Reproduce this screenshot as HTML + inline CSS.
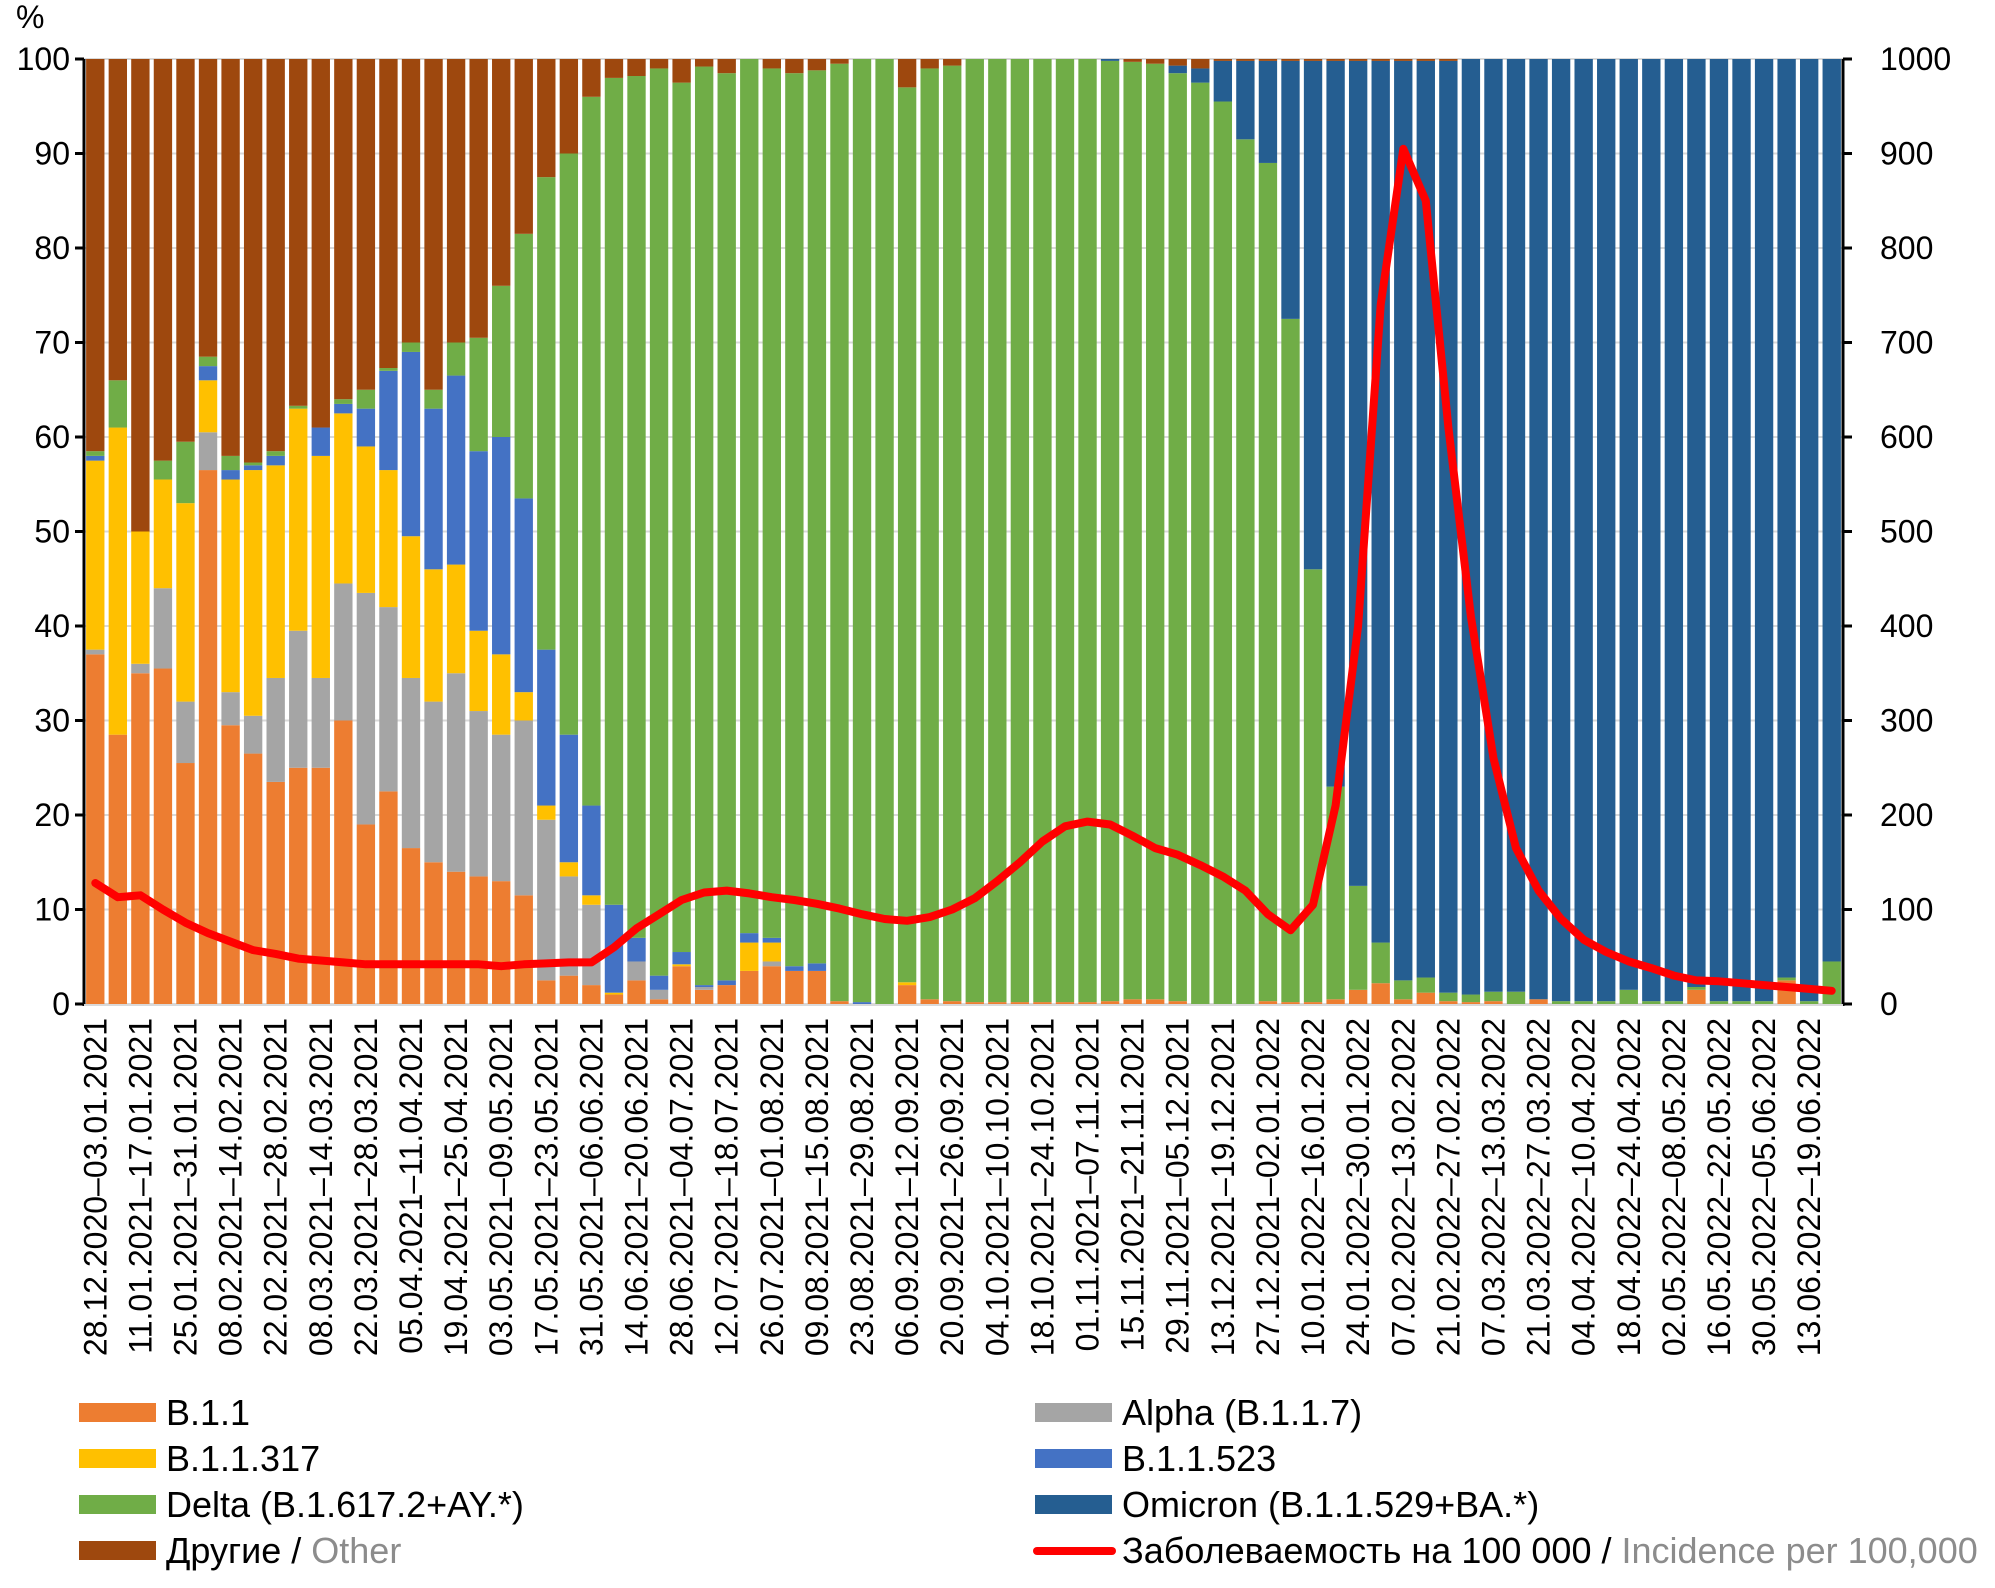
<!DOCTYPE html>
<html><head><meta charset="utf-8">
<style>
html,body{margin:0;padding:0;background:#fff;}
svg{display:block;font-family:"Liberation Sans",Arial,sans-serif;}
</style></head>
<body>
<svg id="chart" width="1995" height="1588" viewBox="0 0 1995 1588" xmlns="http://www.w3.org/2000/svg">
<g id="grid"></g>
<g id="bars"></g>
<g id="line"></g>
<g id="axes"></g>
<g id="xlabels"></g>
<text x="16" y="28" font-size="32">%</text>
<g id="legend" transform="translate(0,-8)">
  <g>
    <rect x="79" y="1411" width="77" height="19" fill="#ED7D31"/>
    <text x="166" y="1433" font-size="36">B.1.1</text></g>
  <g>
    <rect x="79" y="1457" width="77" height="19" fill="#FFC000"/>
    <text x="166" y="1479" font-size="36">B.1.1.317</text></g>
  <g>
    <rect x="79" y="1503" width="77" height="19" fill="#70AD47"/>
    <text x="166" y="1525" font-size="36">Delta (B.1.617.2+AY.*)</text></g>
  <g>
    <rect x="79" y="1549" width="77" height="19" fill="#9E480E"/>
    <text x="166" y="1571" font-size="36">Другие / <tspan fill="#8c8c8c">Other</tspan></text></g>
  <g>
    <rect x="1035" y="1411" width="77" height="19" fill="#A5A5A5"/>
    <text x="1122" y="1433" font-size="36">Alpha (B.1.1.7)</text></g>
  <g>
    <rect x="1035" y="1457" width="77" height="19" fill="#4472C4"/>
    <text x="1122" y="1479" font-size="36">B.1.1.523</text></g>
  <g>
    <rect x="1035" y="1503" width="77" height="19" fill="#255E91"/>
    <text x="1122" y="1525" font-size="36">Omicron (B.1.1.529+BA.*)</text></g>
  <g>
    <line x1="1037" y1="1559" x2="1112" y2="1559" stroke="#FF0000" stroke-width="8" stroke-linecap="round"/>
    <text x="1122" y="1571" font-size="36">Заболеваемость на 100 000 / <tspan fill="#8c8c8c">Incidence per 100,000</tspan></text></g>
</g>
</svg>
<script>
const b11 =   [37,28.5,35,35.5,25.5,56.5,29.5,26.5,23.5,25,25,30,19,22.5,16.5,15,14,13.5,13,11.5,2.5,3,2,1,2.5,0.5,4,1.5,2,3.5,4,3.5,3.5,0.3,0,0,2,0.5,0.3,0.2,0.2,0.2,0.2,0.2,0.2,0.3,0.5,0.5,0.3,0,0,0,0.3,0.2,0.2,0.5,1.5,2.2,0.5,1.2,0.3,0.2,0.3,0,0.5,0,0,0,0,0,0,1.5,0,0,0,2.5,0,0];
const alpha = [0.5,0,1,8.5,6.5,4,3.5,4,11,14.5,9.5,14.5,24.5,19.5,18,17,21,17.5,15.5,18.5,17,10.5,8.5,0,2,1,0,0.3,0,0,0.5,0,0,0,0,0,0,0,0,0,0,0,0,0,0,0,0,0,0,0,0,0,0,0,0,0,0,0,0,0,0,0,0,0,0,0,0,0,0,0,0,0,0,0,0,0,0,0];
const b11317 =[20,32.5,14,11.5,21,5.5,22.5,26,22.5,23.5,23.5,18,15.5,14.5,15,14,11.5,8.5,8.5,3,1.5,1.5,1,0.2,0,0,0.2,0,0,3,2,0,0,0,0,0,0.3,0,0,0,0,0,0,0,0,0,0,0,0,0,0,0,0,0,0,0,0,0,0,0,0,0,0,0,0,0,0,0,0,0,0,0,0,0,0,0,0,0];
const b11523 =[0.5,0,0,0,0,1.5,1,0.5,1,0,3,1,4,10.5,19.5,17,20,19,23,20.5,16.5,13.5,9.5,9.3,2.5,1.5,1.3,0.2,0.5,1,0.5,0.5,0.8,0,0.2,0,0,0,0,0,0,0,0,0,0,0,0,0,0,0,0,0,0,0,0,0,0,0,0,0,0,0,0,0,0,0,0,0,0,0,0,0,0,0,0,0,0,0];
const delta = [0.5,5,0,2,6.5,1,1.5,0.3,0.5,0.3,0,0.5,2,0.3,1,2,3.5,12,16,28,50,61.5,75,87.5,91.2,96,92,97.2,96,92.5,92,94.5,94.5,99.2,99.8,100,94.7,98.5,99,99.8,99.8,99.8,99.8,99.8,99.8,99.5,99.2,99,98.2,97.5,95.5,91.5,88.7,72.3,45.8,22.5,11,4.3,2,1.6,0.9,0.8,1,1.3,0,0.3,0.3,0.3,1.5,0.3,0.3,0.3,0.3,0.3,0.3,0.3,0.3,4.5];
const omicron=[0,0,0,0,0,0,0,0,0,0,0,0,0,0,0,0,0,0,0,0,0,0,0,0,0,0,0,0,0,0,0,0,0,0,0,0,0,0,0,0,0,0,0,0,0,0.2,0,0,0.8,1.5,4.3,8.3,10.8,27.3,53.8,76.8,87.3,93.3,97.3,97,98.6,99,98.7,98.7,99.5,99.7,99.7,99.7,98.5,99.7,99.7,98.2,99.7,99.7,99.7,97.2,99.7,95.5];
const incidence=[128,113,115,100,86,75,66,57,53,48,46,44,42,42,42,42,42,42,40,42,43,44,44,60,80,95,110,118,120,117,113,110,106,101,95,90,88,92,100,112,130,150,172,188,193,190,178,165,158,147,135,120,95,78,105,210,400,740,905,850,610,410,260,165,120,90,68,55,45,38,30,25,24,22,20,18,16,14];
const leftTicks=[0,10,20,30,40,50,60,70,80,90,100];
const rightTicks=[0,100,200,300,400,500,600,700,800,900,1000];

const NS="http://www.w3.org/2000/svg";
const L=84,R=1843,T=59,B=1004;
const n=b11.length, band=(R-L)/n, bw=band-4.2;
const yL=v=>B-v/100*(B-T);
const yR=v=>B-v/1000*(B-T);
const xC=i=>L+(i+0.5)*band;
function mk(tag,attrs,parent){const e=document.createElementNS(NS,tag);for(const k in attrs)e.setAttribute(k,attrs[k]);parent.appendChild(e);return e;}
const grid=document.getElementById('grid'),bars=document.getElementById('bars'),axes=document.getElementById('axes'),xl=document.getElementById('xlabels'),lineG=document.getElementById('line');
leftTicks.forEach((t,k)=>{
  const g=mk('line',{x1:L,x2:R,y1:yL(t),y2:yL(t),stroke:'#d9d9d9','stroke-width':2},grid);
  
  
  const tk=mk('line',{x1:L-9,x2:L,y1:yL(t),y2:yL(t),stroke:'#000','stroke-width':3},axes);
  
  
  const tx=mk('text',{x:70,y:yL(t)+11,'font-size':32,'text-anchor':'end'},axes);
  tx.textContent=t;
  
  
});
rightTicks.forEach(t=>{
  const tk=mk('line',{x1:R,x2:R+9,y1:yR(t),y2:yR(t),stroke:'#000','stroke-width':3},axes);
  
  
  const tx=mk('text',{x:1880,y:yR(t)+11,'font-size':32},axes);
  tx.textContent=t;
  
  
});
const series=[[b11,'#ED7D31','b11'],[alpha,'#A5A5A5','alpha'],[b11317,'#FFC000','b11317'],[b11523,'#4472C4','b11523'],[delta,'#70AD47','delta'],[omicron,'#255E91','omicron']];
for(let i=0;i<n;i++){
  let cum=0;
  const x=xC(i)-bw/2;
  series.forEach(([arr,col,nm])=>{
    const v=arr[i]; if(v<=0)return;
    const r=mk('rect',{x:x,y:yL(cum+v),width:bw,height:yL(cum)-yL(cum+v),fill:col},bars);
    
    
    cum+=v;
  });
  if(cum<100){
    const r=mk('rect',{x:x,y:yL(100),width:bw,height:yL(cum)-yL(100),fill:'#9E480E'},bars);
    
    
  }
}
const a1=mk('line',{x1:L,x2:L,y1:T,y2:B+2,stroke:'#000','stroke-width':3},axes);


const a2=mk('line',{x1:R,x2:R,y1:T,y2:B+2,stroke:'#000','stroke-width':3},axes);


const a3=mk('line',{x1:L,x2:R,y1:B+1,y2:B+1,stroke:'#d9d9d9','stroke-width':2},axes);


const pts=incidence.map((v,i)=>xC(i).toFixed(1)+','+yR(v).toFixed(1)).join(' ');
const pl=mk('polyline',{points:pts,fill:'none',stroke:'#FF0000','stroke-width':8,'stroke-linejoin':'round','stroke-linecap':'round'},lineG);


const start=new Date(Date.UTC(2020,11,28));
const fmt=d=>String(d.getUTCDate()).padStart(2,'0')+'.'+String(d.getUTCMonth()+1).padStart(2,'0')+'.'+d.getUTCFullYear();
for(let i=0;i<n;i+=2){
  const s=new Date(start.getTime()+i*7*864e5), e=new Date(s.getTime()+6*864e5);
  const cx=xC(i)+11, cy=1018;
  const t=mk('text',{x:cx,y:cy,'font-size':32,'text-anchor':'end',transform:`rotate(-90 ${cx} ${cy})`},xl);
  t.textContent=fmt(s)+'–'+fmt(e);
  
  
}
</script>
</body></html>
